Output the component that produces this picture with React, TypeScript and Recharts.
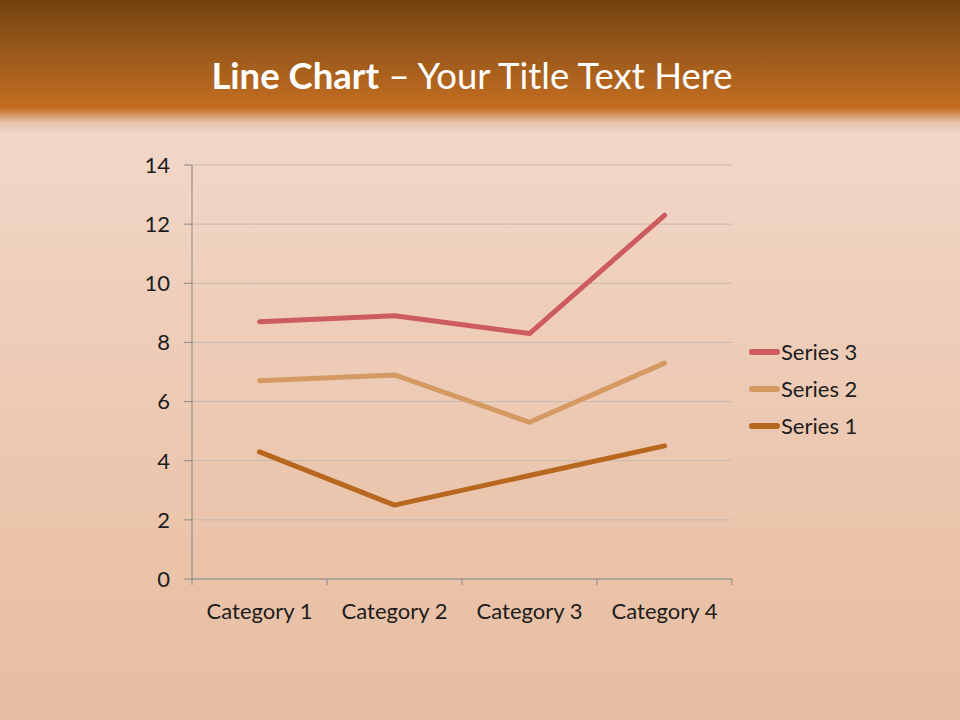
import React from "react";
import {
  LineChart,
  Line,
  XAxis,
  YAxis,
  CartesianGrid,
  Legend,
} from "recharts";

const categories = ["Category 1", "Category 2", "Category 3", "Category 4"];
const series1 = [4.3, 2.5, 3.5, 4.5];
const series2 = [6.7, 6.9, 5.3, 7.3];
const series3 = [8.7, 8.9, 8.3, 12.3];
const yTicks = [0, 2, 4, 6, 8, 10, 12, 14];

const COLORS = {
  s1: "#b8671f",
  s2: "#d59a64",
  s3: "#cd5c5e",
  axis: "#8a8582",
  grid: "#c7bab3",
  text: "#1c1c1c",
};

const FONT = "Lato, 'Open Sans', sans-serif";
const TICK_MARGIN = 24;

const chartData = categories.map((cat, i) => ({
  cat,
  s1: series1[i],
  s2: series2[i],
  s3: series3[i],
}));

const legendItems = [
  { name: "Series 3", color: COLORS.s3 },
  { name: "Series 2", color: COLORS.s2 },
  { name: "Series 1", color: COLORS.s1 },
];

function CategoryTick(props: any) {
  const { x, y, payload, index, width, visibleTicksCount } = props;
  const half = width / visibleTicksCount / 2;
  const axisY = y - TICK_MARGIN;
  return (
    <g>
      <line x1={x - half} x2={x - half} y1={axisY} y2={axisY + 6} stroke={COLORS.axis} />
      {index === visibleTicksCount - 1 && (
        <line x1={x + half} x2={x + half} y1={axisY} y2={axisY + 6} stroke={COLORS.axis} />
      )}
      <text
        x={x}
        y={y}
        dy="0.71em"
        textAnchor="middle"
        fill={COLORS.text}
        fontSize={22}
        fontFamily={FONT}
      >
        {payload.value}
      </text>
    </g>
  );
}

function SeriesLegend() {
  return (
    <div style={{ fontFamily: FONT, fontSize: 22, color: COLORS.text }}>
      {legendItems.map((item) => (
        <div
          key={item.name}
          style={{ display: "flex", alignItems: "center", height: 37 }}
        >
          <svg width={31} height={10} style={{ marginRight: 1 }}>
            <line
              x1={3}
              x2={28}
              y1={5}
              y2={5}
              stroke={item.color}
              strokeWidth={6}
              strokeLinecap="round"
            />
          </svg>
          <span>{item.name}</span>
        </div>
      ))}
    </div>
  );
}

export default function App() {
  return (
    <div
      style={{
        position: "absolute",
        left: 0,
        top: 0,
        width: 960,
        height: 720,
        overflow: "hidden",
        background:
          "linear-gradient(to bottom, #73420f 0px, #94561a 45px, #b3651e 85px, #c36d20 108px, #e6c1aa 122px, #f1d7c8 134px, #eecdb9 330px, #eac3a9 560px, #e6bea1 720px)",
      }}
    >
      <div
        style={{
          position: "absolute",
          left: 0,
          top: 51,
          width: 944,
          textAlign: "center",
          fontFamily: FONT,
          fontSize: 36.5,
          lineHeight: "48px",
          color: "#ffffff",
        }}
      >
        <span style={{ fontWeight: 700 }}>Line Chart</span> – Your Title Text Here
      </div>
      <div style={{ position: "absolute", left: 0, top: 0 }}>
        <LineChart
          width={960}
          height={720}
          data={chartData}
          margin={{ top: 165, right: 228, left: 132, bottom: 81 }}
        >
          <CartesianGrid vertical={false} stroke={COLORS.grid} />
          <XAxis
            dataKey="cat"
            height={60}
            padding={{ left: 67.5, right: 67.5 }}
            axisLine={{ stroke: COLORS.axis }}
            tickLine={false}
            tickSize={0}
            tickMargin={TICK_MARGIN}
            tick={<CategoryTick />}
            interval={0}
          />
          <YAxis
            width={60}
            domain={[0, 14]}
            ticks={yTicks}
            axisLine={{ stroke: COLORS.axis }}
            tickLine={{ stroke: COLORS.axis }}
            tickSize={8}
            tickMargin={14}
            tick={{ fill: COLORS.text, fontSize: 22, fontFamily: FONT }}
          />
          <Legend
            layout="vertical"
            align="center"
            verticalAlign="middle"
            content={<SeriesLegend />}
            wrapperStyle={{ left: 749, top: 333, width: 150 }}
          />
          <Line
            type="linear"
            dataKey="s1"
            name="Series 1"
            stroke={COLORS.s1}
            strokeWidth={5}
            strokeLinecap="round"
            strokeLinejoin="round"
            dot={false}
            isAnimationActive={false}
          />
          <Line
            type="linear"
            dataKey="s2"
            name="Series 2"
            stroke={COLORS.s2}
            strokeWidth={5}
            strokeLinecap="round"
            strokeLinejoin="round"
            dot={false}
            isAnimationActive={false}
          />
          <Line
            type="linear"
            dataKey="s3"
            name="Series 3"
            stroke={COLORS.s3}
            strokeWidth={5}
            strokeLinecap="round"
            strokeLinejoin="round"
            dot={false}
            isAnimationActive={false}
          />
        </LineChart>
      </div>
    </div>
  );
}
